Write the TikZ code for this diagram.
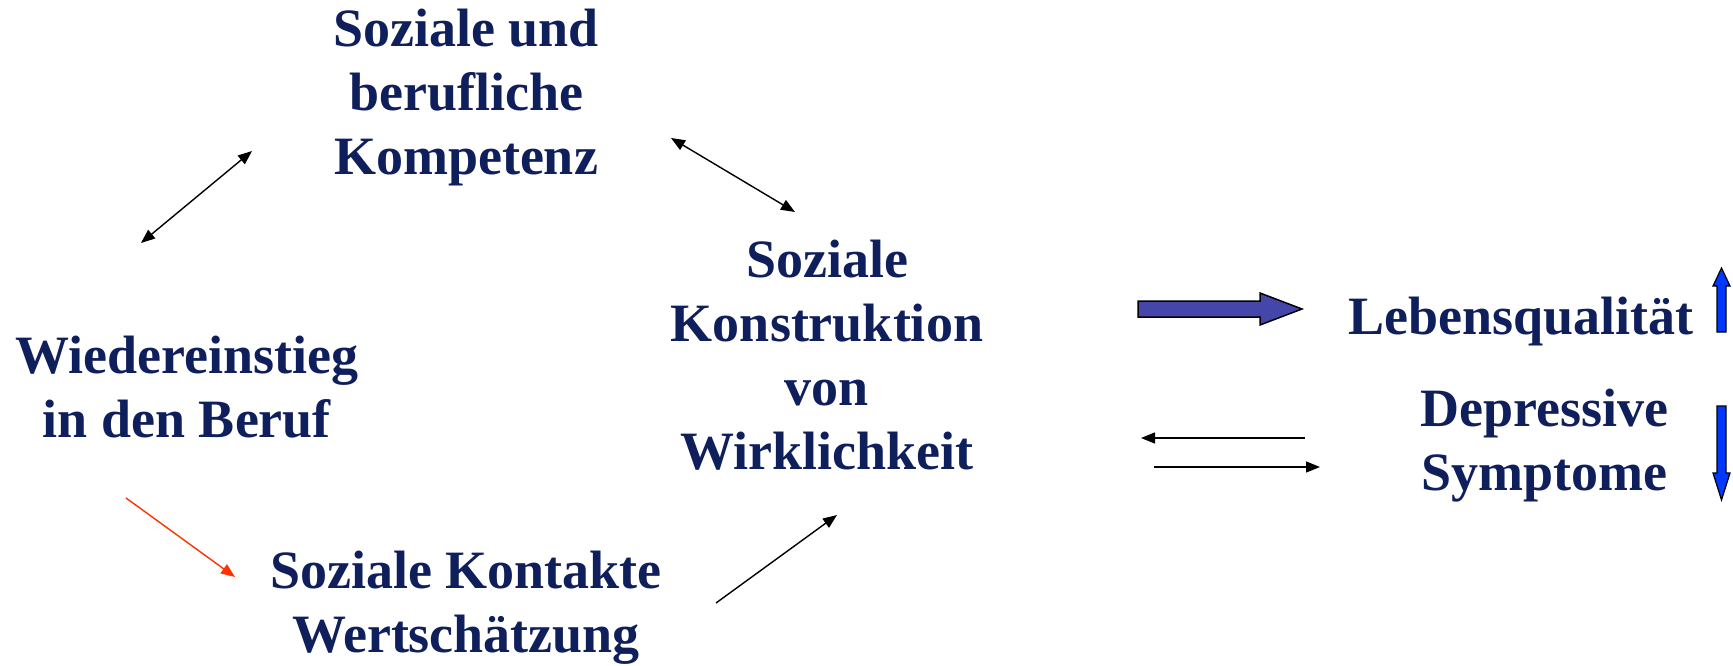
\documentclass[tikz,border=0pt]{standalone}
\usepackage{fontspec}
\setmainfont{Liberation Serif}
\usetikzlibrary{arrows.meta}
\definecolor{navy}{HTML}{0F1F5C}
\definecolor{blockblue}{HTML}{4446AA}
\definecolor{brightblue}{HTML}{0038FF}
\definecolor{redarrow}{HTML}{FF3300}
\begin{document}
\begin{tikzpicture}[x=1pt,y=-1pt,
  label/.style={text=navy,font=\bfseries\fontsize{54}{64}\selectfont,
    align=center,inner sep=0pt,anchor=base},
  link/.style={line width=1.4pt,-{Triangle[length=14pt,width=11pt]}},
  twoway/.style={line width=1.4pt,{Triangle[length=14pt,width=11pt]}-{Triangle[length=14pt,width=11pt]}},
  outlined/.style={draw=black,line width=1.5pt,line join=miter}]
\useasboundingbox (0,0) rectangle (1733,666);

% text blocks (placed by the baseline of their last line)
\node[label] (komp) at (466,175) {Soziale und\\berufliche\\Kompetenz};
\node[label] (wieder) at (187,437) {Wiedereinstieg\\in den Beruf};
\node[label] (konstr) at (827,469) {Soziale\\Konstruktion\\von\\Wirklichkeit};
\node[label] (kontakte) at (466,652) {Soziale Kontakte\\Wertschätzung};
\node[label] (leben) at (1521,334) {Lebensqualität};
\node[label] (depr) at (1544,490) {Depressive\\Symptome};

% arrow end points
\coordinate (wk1) at (141,243);
\coordinate (wk2) at (252,151);
\coordinate (kk1) at (671,138);
\coordinate (kk2) at (795,212);
\coordinate (wt1) at (126,498);
\coordinate (wt2) at (235,577);
\coordinate (tk1) at (716,603);
\coordinate (tk2) at (837,515);
\coordinate (back1) at (1305,438);
\coordinate (back2) at (1141,438);
\coordinate (fwd1) at (1154,467);
\coordinate (fwd2) at (1320,467);

\draw[twoway] (wk1) -- (wk2);
\draw[twoway] (kk1) -- (kk2);
\draw[link,color=redarrow] (wt1) -- (wt2);
\draw[link] (tk1) -- (tk2);
\draw[link] (back1) -- (back2);
\draw[link] (fwd1) -- (fwd2);

% broad arrow towards quality of life
\draw[outlined,fill=blockblue]
  (1138,301) -- (1260,301) -- (1260,293) -- (1302,309) -- (1260,325)
  -- (1260,317) -- (1138,317) -- cycle;

% up and down markers
\draw[outlined,fill=brightblue,line width=1.2pt]
  (1717,332) -- (1717,286) -- (1713,286) -- (1721.5,268) -- (1730,286)
  -- (1726,286) -- (1726,332) -- cycle;
\draw[outlined,fill=brightblue,line width=1.2pt]
  (1717,406) -- (1717,473) -- (1713,473) -- (1721.5,500) -- (1730,473)
  -- (1726,473) -- (1726,406) -- cycle;
\end{tikzpicture}
\end{document}
